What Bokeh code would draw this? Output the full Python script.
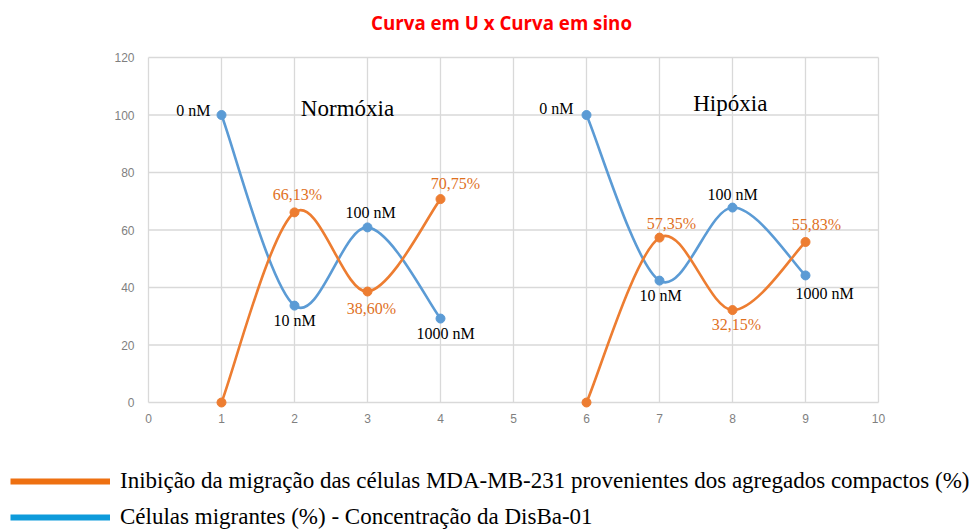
import numpy as np
from bokeh.plotting import figure
from bokeh.models import Range1d, Legend, LegendItem, Label, ColumnDataSource
from bokeh.core.properties import value
from bokeh.embed import file_html
from bokeh.resources import INLINE

# ---------------- data ----------------
title_text = "Curva em U x Curva em sino"
norm_x = [1, 2, 3, 4]
hipo_x = [6, 7, 8, 9]
norm_inib = [0, 66.13, 38.60, 70.75]
hipo_inib = [0, 57.35, 32.15, 55.83]
norm_mig = [100, 33.7, 60.9, 29.2]
hipo_mig = [100, 42.4, 67.8, 44.2]
conc_labels = ["0 nM", "10 nM", "100 nM", "1000 nM"]
norm_inib_labels = ["", "66,13%", "38,60%", "70,75%"]
hipo_inib_labels = ["", "57,35%", "32,15%", "55,83%"]
panel_names = ["Normóxia", "Hipóxia"]
legend_labels = [
    "Inibição da migração das células MDA-MB-231 provenientes dos agregados compactos (%)",
    "Células migrantes (%) - Concentração da DisBa-01",
]
x_ticks = list(range(0, 11))
y_ticks = list(range(0, 121, 20))

# ---------------- styles / layout ----------------
ORANGE = "#ED7D31"
BLUE = "#5B9BD5"
LEG_ORANGE = "#EE7011"
LEG_BLUE = "#0E9BDB"
LABEL_ORANGE = "#E0701E"
GRID = "#d9d9d9"
TICK_COLOR = "#7f7f7f"
SERIF = "Liberation Serif"

W, H = 975, 530
PLOT_L, PLOT_R, PLOT_T, PLOT_B = 148, 878, 57, 402   # plot area in canvas pixels
x_lo, x_hi = x_ticks[0], x_ticks[-1]
y_lo, y_hi = y_ticks[0], y_ticks[-1]
xpx = (PLOT_R - PLOT_L) / (x_hi - x_lo)
ypx = (PLOT_B - PLOT_T) / (y_hi - y_lo)
xr = Range1d(x_lo - PLOT_L / xpx, x_lo - PLOT_L / xpx + W / xpx)
yr = Range1d(y_hi + PLOT_T / ypx - H / ypx, y_hi + PLOT_T / ypx)

# label offsets (screen px): (dx, dy, align, baseline)
norm_mig_off = [(-11, -5, "right", "middle"), (0, 6, "center", "top"), (3, -6, "center", "bottom"), (5, 6, "center", "top")]
hipo_mig_off = [(-13, -7, "right", "middle"), (1, 6, "center", "top"), (0, -5, "center", "bottom"), (19, 10, "center", "top")]
norm_inib_off = [(0, 0, "center", "bottom"), (3, -9, "center", "bottom"), (4, 8, "center", "top"), (15, -7, "center", "bottom")]
hipo_inib_off = [(0, 0, "center", "bottom"), (12, -6, "center", "bottom"), (4, 6, "center", "top"), (11, -9, "center", "bottom")]

p = figure(width=W, height=H, output_backend="svg", toolbar_location=None,
           x_range=xr, y_range=yr, min_border=0,
           x_axis_location=None, y_axis_location=None)
p.grid.visible = False
p.outline_line_color = None

# gridlines of the plot area (from the tick arrays)
p.segment(x0=x_ticks, y0=[y_lo] * len(x_ticks), x1=x_ticks, y1=[y_hi] * len(x_ticks),
          line_color=GRID, line_width=1.3)
p.segment(x0=[x_lo] * len(y_ticks), y0=y_ticks, x1=[x_hi] * len(y_ticks), y1=y_ticks,
          line_color=GRID, line_width=1.3)
# tick labels
p.text(x=x_ticks, y=[y_lo] * len(x_ticks), text=[str(t) for t in x_ticks], y_offset=11,
       text_align="center", text_baseline="top", text_color=TICK_COLOR,
       text_font=value("Liberation Sans"), text_font_size="12px")
p.text(x=[x_lo] * len(y_ticks), y=y_ticks, text=[str(t) for t in y_ticks], x_offset=-14,
       text_align="right", text_baseline="middle", text_color=TICK_COLOR,
       text_font=value("Liberation Sans"), text_font_size="12px")


def smooth_segments(xs, ys):
    n = len(xs)
    seg = dict(x0=[], y0=[], x1=[], y1=[], cx0=[], cy0=[], cx1=[], cy1=[])
    for i in range(n - 1):
        xm, ym = (xs[i - 1], ys[i - 1]) if i > 0 else (xs[i], ys[i])
        xp, yp = (xs[i + 2], ys[i + 2]) if i + 2 < n else (xs[i + 1], ys[i + 1])
        seg["x0"].append(xs[i]); seg["y0"].append(ys[i])
        seg["x1"].append(xs[i + 1]); seg["y1"].append(ys[i + 1])
        seg["cx0"].append(xs[i] + (xs[i + 1] - xm) / 6.0)
        seg["cy0"].append(ys[i] + (ys[i + 1] - ym) / 6.0)
        seg["cx1"].append(xs[i + 1] - (xp - xs[i]) / 6.0)
        seg["cy1"].append(ys[i + 1] - (yp - ys[i]) / 6.0)
    return seg


def draw_series(xs, ys, color):
    p.bezier(source=ColumnDataSource(smooth_segments(xs, ys)),
             x0="x0", y0="y0", x1="x1", y1="y1", cx0="cx0", cy0="cy0", cx1="cx1", cy1="cy1",
             line_color=color, line_width=2.6)
    p.scatter(xs, ys, size=9, color=color)


def draw_labels(xs, ys, labels, offs, color):
    for xv, yv, t, (dx, dy, al, bl) in zip(xs, ys, labels, offs):
        if not t:
            continue
        p.text(x=[xv], y=[yv], text=[t], x_offset=dx, y_offset=dy,
               text_align=al, text_baseline=bl, text_color=color,
               text_font=value(SERIF), text_font_size="16px")


draw_series(norm_x, norm_mig, BLUE)
draw_series(hipo_x, hipo_mig, BLUE)
draw_series(norm_x, norm_inib, ORANGE)
draw_series(hipo_x, hipo_inib, ORANGE)

draw_labels(norm_x, norm_mig, conc_labels, norm_mig_off, "black")
draw_labels(hipo_x, hipo_mig, conc_labels, hipo_mig_off, "black")
draw_labels(norm_x, norm_inib, norm_inib_labels, norm_inib_off, LABEL_ORANGE)
draw_labels(hipo_x, hipo_inib, hipo_inib_labels, hipo_inib_off, LABEL_ORANGE)

p.add_layout(Label(x=2.726, y=102.3, text=panel_names[0], text_align="center", text_baseline="middle",
                   text_font=SERIF, text_font_size="23px", text_color="black"))
p.add_layout(Label(x=7.97, y=104.0, text=panel_names[1], text_align="center", text_baseline="middle",
                   text_font=SERIF, text_font_size="23px", text_color="black"))
p.add_layout(Label(x=4.836, y=132.2, text=title_text, text_align="center", text_baseline="middle",
                   text_font="Open Sans", text_font_style="bold", text_font_size="18.7px",
                   text_color="#FF0000"))

# legend (swatch renderers carry no visible data)
r1 = p.line(x=np.array([np.nan]), y=np.array([np.nan]), line_color=LEG_ORANGE, line_width=6)
r2 = p.line(x=np.array([np.nan]), y=np.array([np.nan]), line_color=LEG_BLUE, line_width=6)
legend = Legend(items=[LegendItem(label=legend_labels[0], renderers=[r1]),
                       LegendItem(label=legend_labels[1], renderers=[r2])],
                location=(10, 0), orientation="vertical",
                glyph_width=100, glyph_height=24, label_height=24, spacing=10,
                label_standoff=10, padding=0, margin=0,
                border_line_color=None, background_fill_alpha=0,
                label_text_font=SERIF, label_text_font_size="23px", label_text_color="black")
p.add_layout(legend, "center")

open("out.html", "w").write(file_html(p, INLINE))
